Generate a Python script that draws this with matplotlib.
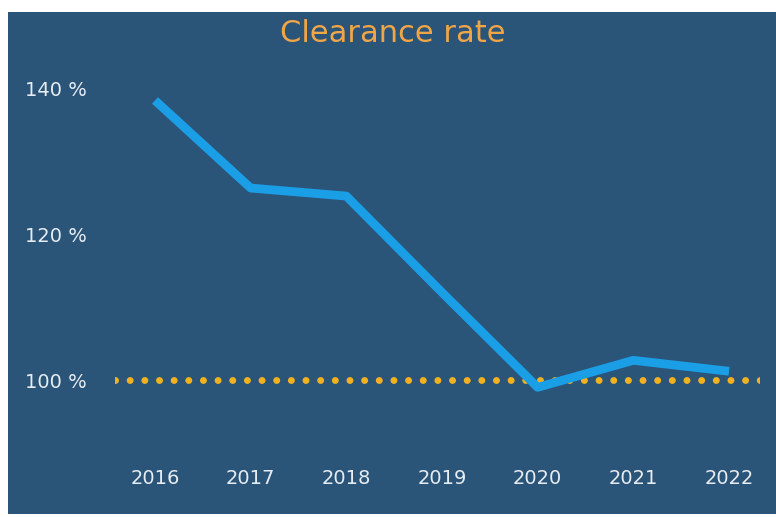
import matplotlib
matplotlib.use("Agg")
import matplotlib.pyplot as plt
from matplotlib.patches import Rectangle

years = [2016, 2017, 2018, 2019, 2020, 2021, 2022]
clearance = [138.3, 126.3, 125.2, 112.0, 99.0, 102.7, 101.2]
target = 100
y_ticks = [100, 120, 140]
y_labels = ["100 %", "120 %", "140 %"]
title = "Clearance rate"

W, H = 776, 517
fig = plt.figure(figsize=(W / 100, H / 100), dpi=100)
fig.patch.set_facecolor("white")

panel_color = "#2b5479"
fig.patches.append(Rectangle((8 / W, 1 - 514 / H), 1 - 8 / W, (514 - 12) / H,
                             transform=fig.transFigure, facecolor=panel_color,
                             edgecolor="none", zorder=-10))

ax = fig.add_axes([115 / W, 1 - 445 / H, 645 / W, 385 / H])
ax.set_zorder(5)
ax.set_facecolor("none")
for s in ax.spines.values():
    s.set_visible(False)

ax.axhline(target, color="#f2b21f", linewidth=5.0,
           linestyle=(0, (0.01, 2.1)), dash_capstyle="round", zorder=2)
ax.plot(years, clearance, color="#1a9fe6", linewidth=6.3,
        solid_joinstyle="round", solid_capstyle="butt", zorder=3)

ax.set_xlim(2015.582, 2022.324)
ax.set_ylim(91.1, 143.84)

ax.set_xticks(years)
ax.set_xticklabels([str(y) for y in years])
ax.set_yticks(y_ticks)
ax.set_yticklabels(y_labels)
ax.tick_params(axis="both", length=0, colors="#e6edf3", labelsize=14)
ax.tick_params(axis="x", pad=17)
ax.tick_params(axis="y", pad=65)
for lab in ax.get_yticklabels():
    lab.set_horizontalalignment("left")

fig.text(393 / W, 1 - 34 / H, title, color="#f0a646", fontsize=22,
         ha="center", va="center", zorder=10)

fig.savefig("out.png", dpi=100, facecolor=fig.get_facecolor())
